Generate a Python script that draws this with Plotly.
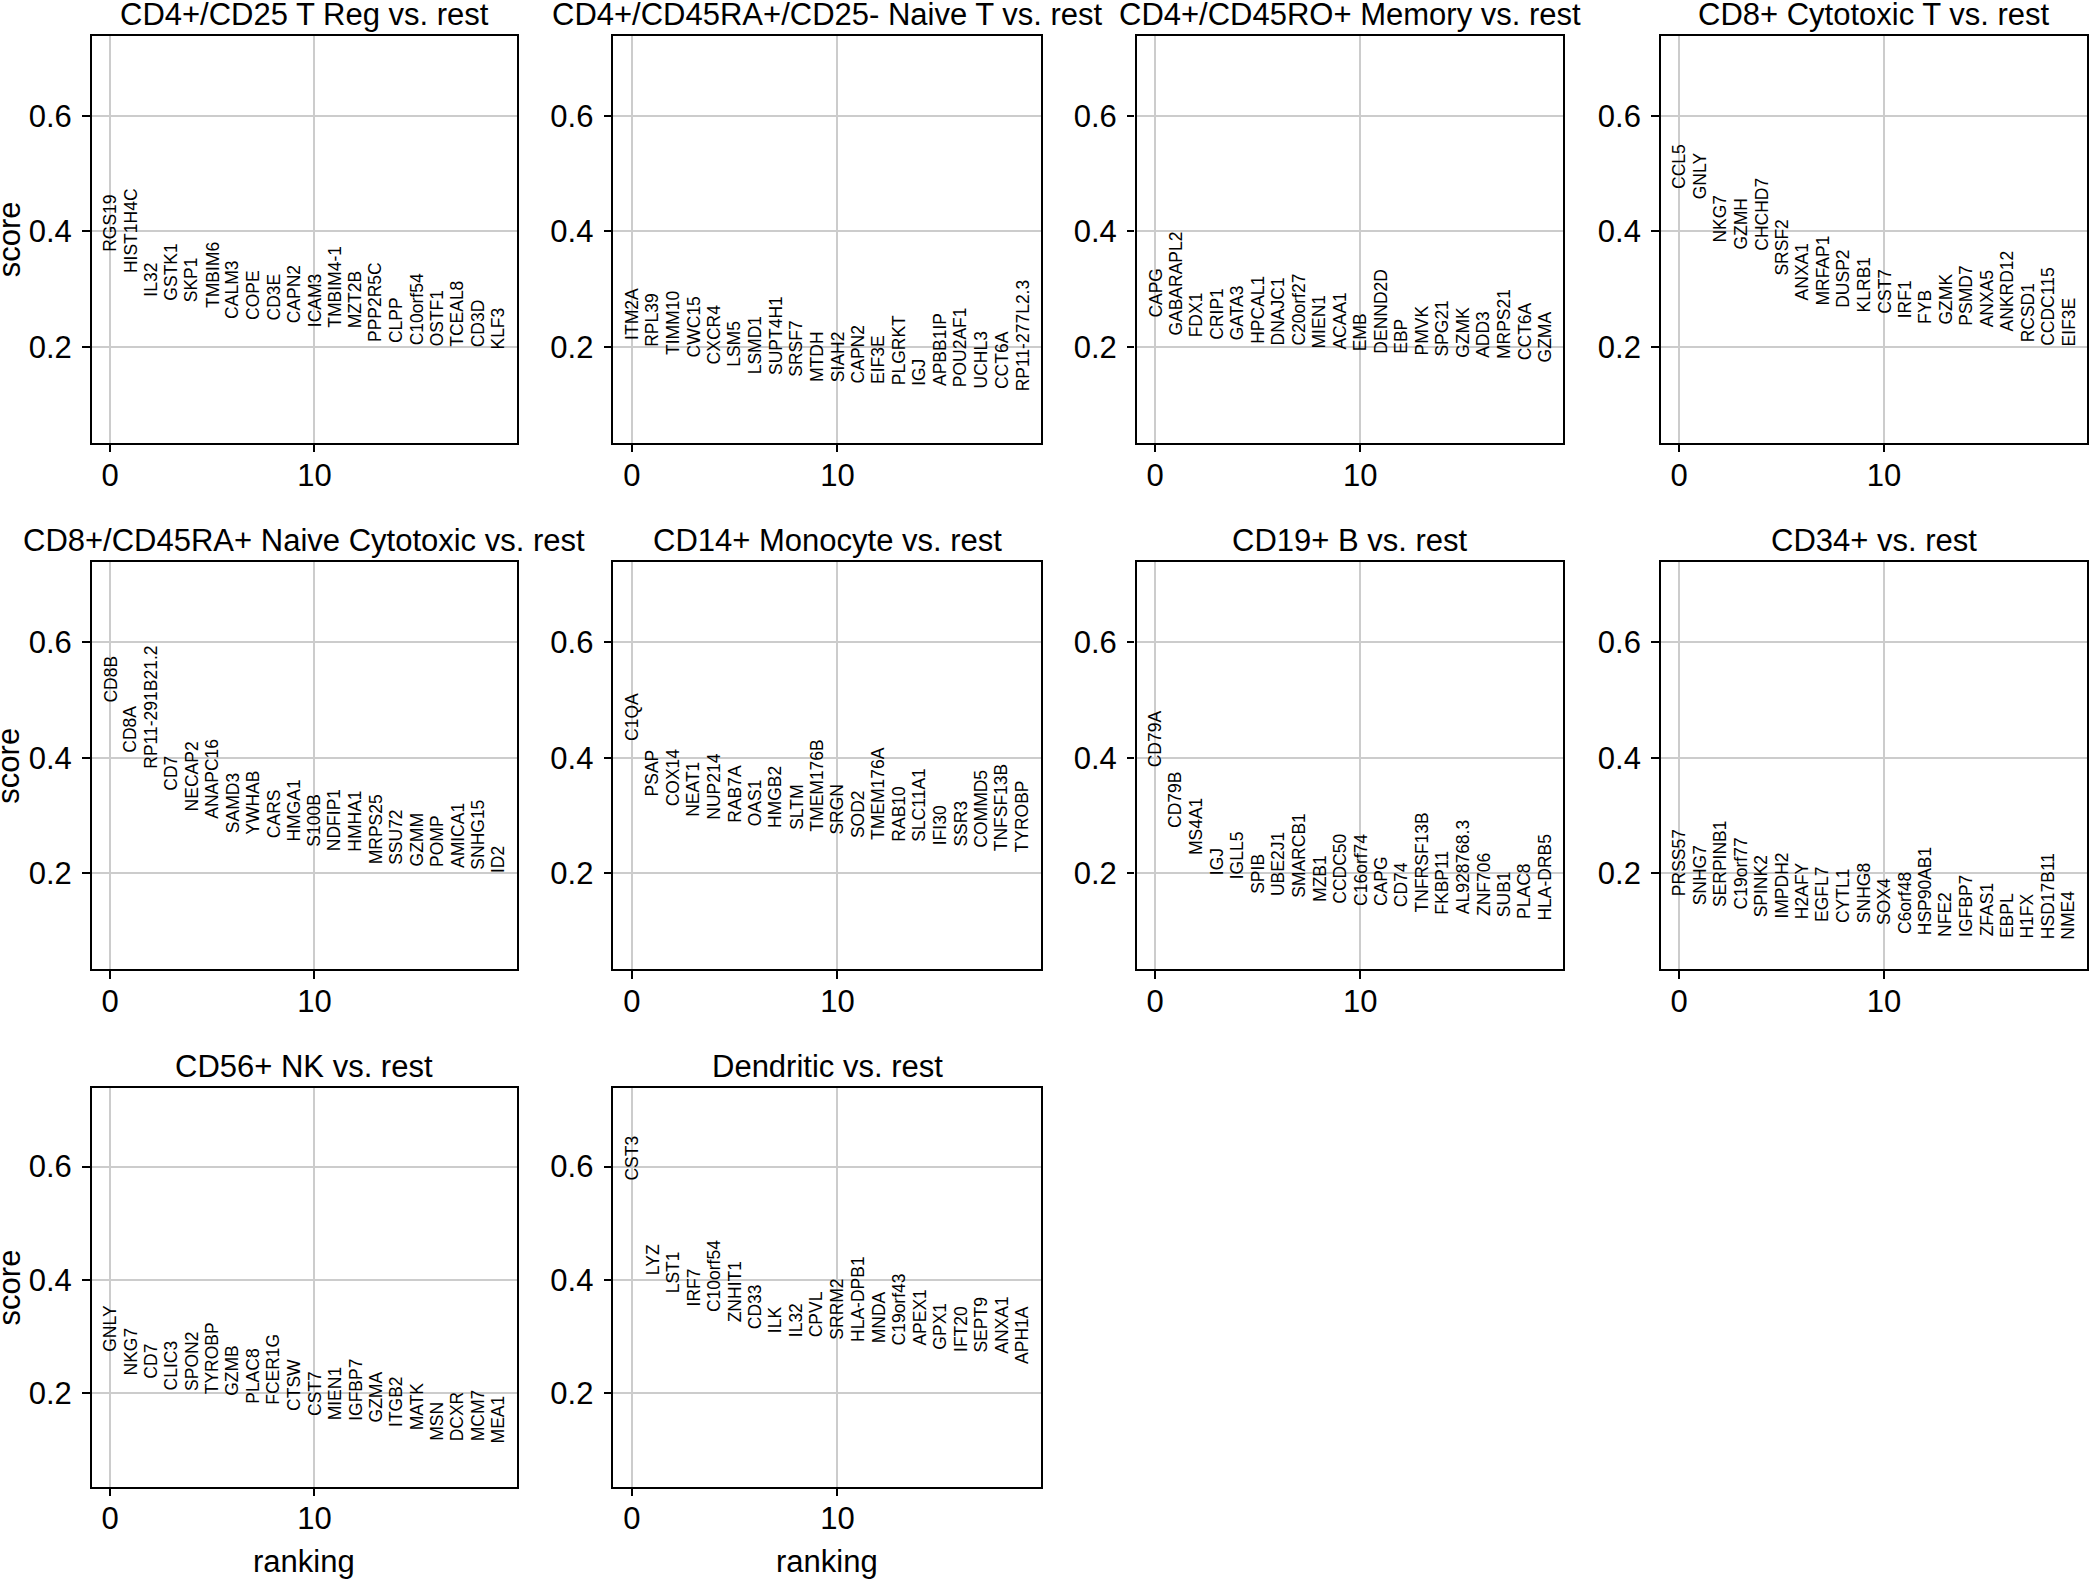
import plotly.graph_objects as go

# ---------------- data ----------------
group_names = [
    "CD4+/CD25 T Reg", "CD4+/CD45RA+/CD25- Naive T", "CD4+/CD45RO+ Memory",
    "CD8+ Cytotoxic T", "CD8+/CD45RA+ Naive Cytotoxic", "CD14+ Monocyte",
    "CD19+ B", "CD34+", "CD56+ NK", "Dendritic",
]
reference = "rest"

genes_treg = ["RGS19", "HIST1H4C", "IL32", "GSTK1", "SKP1", "TMBIM6", "CALM3", "COPE", "CD3E", "CAPN2",
              "ICAM3", "TMBIM4-1", "MZT2B", "PPP2R5C", "CLPP", "C10orf54", "OSTF1", "TCEAL8", "CD3D", "KLF3"]
scores_treg = [0.362, 0.326, 0.285, 0.278, 0.276, 0.266, 0.246, 0.245, 0.244, 0.239,
               0.232, 0.231, 0.230, 0.206, 0.205, 0.200, 0.199, 0.199, 0.197, 0.194]

genes_naive_t = ["ITM2A", "RPL39", "TIMM10", "CWC15", "CXCR4", "LSM5", "LSMD1", "SUPT4H1", "SRSF7", "MTDH",
                 "SIAH2", "CAPN2", "EIF3E", "PLGRKT", "IGJ", "APBB1IP", "POU2AF1", "UCHL3", "CCT6A", "RP11-277L2.3"]
scores_naive_t = [0.210, 0.199, 0.184, 0.180, 0.168, 0.163, 0.151, 0.150, 0.147, 0.138,
                  0.137, 0.135, 0.134, 0.132, 0.131, 0.130, 0.128, 0.126, 0.125, 0.122]

genes_memory = ["CAPG", "GABARAPL2", "FDX1", "CRIP1", "GATA3", "HPCAL1", "DNAJC1", "C20orf27", "MIEN1", "ACAA1",
                "EMB", "DENND2D", "EBP", "PMVK", "SPG21", "GZMK", "ADD3", "MRPS21", "CCT6A", "GZMA"]
scores_memory = [0.249, 0.217, 0.214, 0.210, 0.209, 0.203, 0.201, 0.200, 0.195, 0.194,
                 0.191, 0.187, 0.186, 0.183, 0.182, 0.180, 0.179, 0.177, 0.176, 0.172]

genes_cd8 = ["CCL5", "GNLY", "NKG7", "GZMH", "CHCHD7", "SRSF2", "ANXA1", "MRFAP1", "DUSP2", "KLRB1",
             "CST7", "IRF1", "FYB", "GZMK", "PSMD7", "ANXA5", "ANKRD12", "RCSD1", "CCDC115", "EIF3E"]
scores_cd8 = [0.471, 0.454, 0.379, 0.366, 0.364, 0.321, 0.278, 0.269, 0.266, 0.258,
              0.255, 0.247, 0.238, 0.237, 0.235, 0.232, 0.224, 0.206, 0.200, 0.199]

genes_cd8_naive = ["CD8B", "CD8A", "RP11-291B21.2", "CD7", "NECAP2", "ANAPC16", "SAMD3", "YWHAB", "CARS", "HMGA1",
                   "S100B", "NDFIP1", "HMHA1", "MRPS25", "SSU72", "GZMM", "POMP", "AMICA1", "SNHG15", "ID2"]
scores_cd8_naive = [0.493, 0.407, 0.380, 0.341, 0.305, 0.293, 0.267, 0.265, 0.259, 0.253,
                    0.244, 0.236, 0.235, 0.213, 0.212, 0.210, 0.209, 0.207, 0.204, 0.198]

genes_mono = ["C1QA", "PSAP", "COX14", "NEAT1", "NUP214", "RAB7A", "OAS1", "HMGB2", "SLTM", "TMEM176B",
              "SRGN", "SOD2", "TMEM176A", "RAB10", "SLC11A1", "IFI30", "SSR3", "COMMD5", "TNFSF13B", "TYROBP"]
scores_mono = [0.427, 0.331, 0.314, 0.296, 0.291, 0.285, 0.279, 0.276, 0.273, 0.270,
               0.265, 0.259, 0.256, 0.253, 0.252, 0.247, 0.244, 0.243, 0.236, 0.235]

genes_b = ["CD79A", "CD79B", "MS4A1", "IGJ", "IGLL5", "SPIB", "UBE2J1", "SMARCB1", "MZB1", "CCDC50",
           "C16orf74", "CAPG", "CD74", "TNFRSF13B", "FKBP11", "AL928768.3", "ZNF706", "SUB1", "PLAC8", "HLA-DRB5"]
scores_b = [0.381, 0.276, 0.229, 0.195, 0.188, 0.162, 0.159, 0.156, 0.148, 0.145,
            0.142, 0.141, 0.139, 0.130, 0.127, 0.127, 0.124, 0.122, 0.119, 0.117]

genes_cd34 = ["PRSS57", "SNHG7", "SERPINB1", "C19orf77", "SPINK2", "IMPDH2", "H2AFY", "EGFL7", "CYTL1", "SNHG8",
              "SOX4", "C6orf48", "HSP90AB1", "NFE2", "IGFBP7", "ZFAS1", "EBPL", "H1FX", "HSD17B11", "NME4"]
scores_cd34 = [0.158, 0.142, 0.139, 0.135, 0.122, 0.119, 0.118, 0.114, 0.112, 0.111,
               0.108, 0.092, 0.090, 0.088, 0.088, 0.088, 0.085, 0.085, 0.084, 0.083]

genes_nk = ["GNLY", "NKG7", "CD7", "CLIC3", "SPON2", "TYROBP", "GZMB", "PLAC8", "FCER1G", "CTSW",
            "CST7", "MIEN1", "IGFBP7", "GZMA", "ITGB2", "MATK", "MSN", "DCXR", "MCM7", "MEA1"]
scores_nk = [0.270, 0.228, 0.224, 0.203, 0.202, 0.196, 0.193, 0.178, 0.177, 0.166,
             0.157, 0.150, 0.149, 0.146, 0.137, 0.131, 0.114, 0.113, 0.112, 0.109]

genes_dc = ["CST3", "LYZ", "LST1", "IRF7", "C10orf54", "ZNHIT1", "CD33", "ILK", "IL32", "CPVL",
            "SRRM2", "HLA-DPB1", "MNDA", "C19orf43", "APEX1", "GPX1", "IFT20", "SEPT9", "ANXA1", "APH1A"]
scores_dc = [0.574, 0.406, 0.374, 0.350, 0.341, 0.323, 0.310, 0.304, 0.297, 0.296,
             0.292, 0.288, 0.285, 0.282, 0.281, 0.274, 0.270, 0.269, 0.268, 0.250]

all_genes = [genes_treg, genes_naive_t, genes_memory, genes_cd8, genes_cd8_naive,
             genes_mono, genes_b, genes_cd34, genes_nk, genes_dc]
all_scores = [scores_treg, scores_naive_t, scores_memory, scores_cd8, scores_cd8_naive,
              scores_mono, scores_b, scores_cd34, scores_nk, scores_dc]

y_tick_vals = [0.2, 0.4, 0.6]
x_tick_vals = [0, 10]
y_range = [0.034, 0.7385]

# ---------------- layout ----------------
W, H = 2089, 1579
col_domains = [(0.0439, 0.2473), (0.2936, 0.4983), (0.5441, 0.7484), (0.7950, 0.9990)]
row_domains = [(0.7196, 0.9774), (0.3863, 0.6439), (0.0585, 0.3108)]
n_cols = 4
FONT = "Liberation Sans, Arial, Helvetica, sans-serif"
BIG = 31
SMALL = 17.5

fig = go.Figure()
annotations = []
layout_axes = {}

for i, (name, genes, scores) in enumerate(zip(group_names, all_genes, all_scores)):
    r, c = divmod(i, n_cols)
    idx = "" if i == 0 else str(i + 1)
    xa, ya = "x" + idx, "y" + idx
    n = len(genes)
    fig.add_trace(go.Scatter(
        x=list(range(n)), y=scores, mode="markers",
        marker=dict(opacity=0, size=1), hoverinfo="skip", showlegend=False,
        xaxis=xa, yaxis=ya,
    ))
    common = dict(
        showline=True, linecolor="black", linewidth=2.3, mirror=True,
        ticks="outside", ticklen=7.5, tickwidth=2.3, tickcolor="black",
        showgrid=True, gridcolor="#cccccc", gridwidth=1.8, zeroline=False,
        tickfont=dict(family=FONT, size=BIG, color="black"),
    )
    layout_axes["xaxis" + idx] = dict(
        common, domain=list(col_domains[c]), anchor=ya,
        range=[-0.9, n - 0.1], tickmode="array", tickvals=x_tick_vals,
        ticklabelstandoff=-4,
    )
    layout_axes["yaxis" + idx] = dict(
        common, domain=list(row_domains[r]), anchor=xa,
        range=y_range, tickmode="array", tickvals=y_tick_vals,
        ticklabelstandoff=4,
    )
    # gene labels, vertical, bottom at the score
    for ig, (g, s) in enumerate(zip(genes, scores)):
        annotations.append(dict(
            x=ig, y=s, xref=xa, yref=ya, text=g, textangle=-90,
            xanchor="center", yanchor="bottom", showarrow=False, borderpad=0,
            font=dict(family=FONT, size=SMALL, color="black"),
        ))
    # panel title
    annotations.append(dict(
        x=0.5, y=1, xref=xa + " domain", yref=ya + " domain",
        text=f"{name} vs. {reference}", showarrow=False,
        xanchor="center", yanchor="bottom", yshift=3, borderpad=0,
        font=dict(family=FONT, size=BIG, color="black"),
    ))
    if c == 0:
        annotations.append(dict(
            x=9 / W, y=0.5, xref="paper", yref=ya + " domain",
            text="score", textangle=-90, showarrow=False,
            xanchor="center", yanchor="middle", borderpad=0,
            font=dict(family=FONT, size=BIG, color="black"),
        ))
    if r == len(row_domains) - 1:
        annotations.append(dict(
            x=0.5, y=0, xref=xa + " domain", yref=ya + " domain",
            text="ranking", showarrow=False,
            xanchor="center", yanchor="top", yshift=-56, borderpad=0,
            font=dict(family=FONT, size=BIG, color="black"),
        ))

fig.update_layout(
    width=W, height=H,
    margin=dict(l=0, r=0, t=0, b=0),
    paper_bgcolor="white", plot_bgcolor="white",
    font=dict(family=FONT, size=BIG, color="black"),
    annotations=annotations,
    showlegend=False,
    **layout_axes,
)

fig.write_html("out.html", config={"displayModeBar": False},
               post_script="document.body.style.margin='0';document.body.style.overflow='hidden';")
